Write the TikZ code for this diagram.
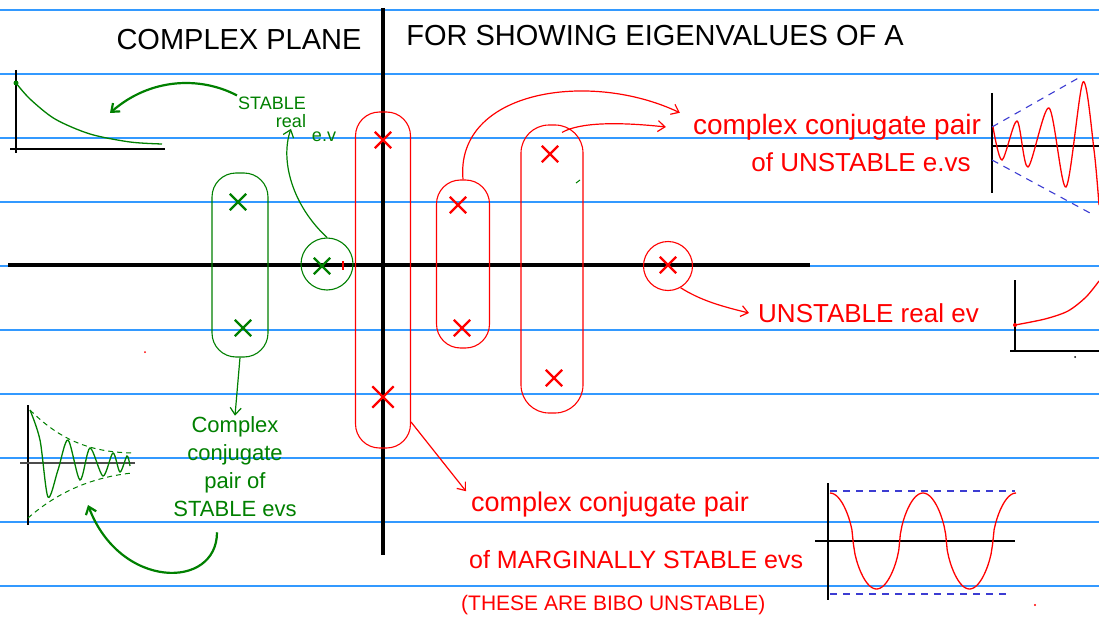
\documentclass[tikz,border=0pt]{standalone}
\usepackage{fontspec}
\setmainfont{Liberation Sans}
\usetikzlibrary{positioning,arrows.meta,shapes.misc}
\definecolor{ruleblue}{RGB}{51,153,255}
\definecolor{inkgreen}{RGB}{0,128,0}
\definecolor{inkred}{RGB}{255,0,0}
\definecolor{envblue}{RGB}{60,60,210}

\begin{document}
\begin{tikzpicture}[
  x=1pt, y=-1pt,
  ruled/.style={ruleblue, line width=1.5pt},
  axis/.style={black, line width=3.5pt},
  smallaxis/.style={black, line width=1.2pt},
  grp/.style={draw, rectangle, rounded corners=24pt, line width=1.1pt, inner sep=0pt},
  evx/.style={cross out, draw, minimum size=14pt, inner sep=0pt, line width=2.3pt},
  garr/.style={inkgreen, line width=1.2pt, -{Straight Barb[length=7pt,width=11pt]}},
  rarr/.style={inkred, line width=1.2pt, -{Straight Barb[length=7pt,width=11pt]}},
  gtxt/.style={inkgreen, inner sep=1pt},
  rtxt/.style={inkred, inner sep=1pt},
  env/.style={envblue, dash pattern=on 7pt off 6pt, line width=1.1pt},
  ]
  \useasboundingbox (0,0) rectangle (1099,623);
  \fill[white] (0,0) rectangle (1099,623);
  % ruled paper
  \foreach \yy in {10,74,...,586}
    \draw[ruled] (0,\yy) -- (1099,\yy);

  % complex plane
  \draw[axis] (8,265) -- (810,265);
  \draw[axis] (383,8) -- (383,555);
  \node[font=\fontsize{29}{32}\selectfont] (ttlA) at (239,40) {COMPLEX PLANE};
  \node[font=\fontsize{29}{32}\selectfont] (ttlB) at (655,36) {FOR SHOWING EIGENVALUES OF A};

  % stable eigenvalues
  \node[grp, draw=inkgreen, minimum width=56pt, minimum height=184pt] (sgrp) at (240,265) {};
  \node[evx, inkgreen] (sx1) at (238,202) {};
  \node[evx, inkgreen] (sx2) at (243,328) {};
  \node[draw=inkgreen, circle, line width=1.1pt, minimum size=52pt, inner sep=0pt] (grc) at (327,264) {};
  \node[evx, inkgreen] (gx) at (322,266) {};
  \draw[inkred, line width=1.2pt] (343,261) -- (343,270);

  \node[gtxt, font=\fontsize{18}{20}\selectfont] (gst) at (272,103) {STABLE};
  \node[gtxt, font=\fontsize{18}{20}\selectfont] (grl) at (291,121) {real};
  \node[gtxt, font=\fontsize{18}{20}\selectfont] (gev) at (324,137) {e.v};
  \node[gtxt, font=\fontsize{22}{28}\selectfont, align=center] (scc) at (235,467)
    {Complex\\conjugate\\pair of\\STABLE evs};

  \coordinate (dectip) at (110,113);
  \coordinate (dmptip) at (88,505);
  \draw[garr] (sgrp.south) -- (scc.north);
  \draw[garr] (grc.north) .. controls (292,205) and (280,160) .. (grl.south);
  \draw[garr, line width=2.2pt] (gst.north west) .. controls (200,76) and (150,78) .. (dectip);
  \draw[garr, line width=2.2pt] ([xshift=-18pt,yshift=-14pt]scc.south) .. controls (217,590) and (120,590) .. (dmptip);

  % unstable and marginal eigenvalues
  \node[grp, draw=inkred, minimum width=55pt, minimum height=336pt] (igrp) at (383,280) {};
  \node[grp, draw=inkred, minimum width=53pt, minimum height=168pt] (ugrp1) at (463,264) {};
  \node[grp, draw=inkred, rounded corners=28pt, minimum width=62pt, minimum height=288pt] (ugrp2) at (552,269) {};
  \node[draw=inkred, circle, line width=1.1pt, minimum size=49pt, inner sep=0pt] (ucirc) at (668,266) {};
  \node[evx, inkred] (ix1) at (383,140) {};
  \node[evx, inkred, minimum size=19pt] (ix2) at (383,397) {};
  \node[evx, inkred] (ux1) at (458,205) {};
  \node[evx, inkred] (ux2) at (462,328) {};
  \node[evx, inkred] (ux3) at (550,154) {};
  \node[evx, inkred] (ux4) at (554,378) {};
  \node[evx, inkred] (urx) at (668,265) {};

  \node[rtxt, font=\fontsize{28}{30}\selectfont] (upair) at (837,127) {complex conjugate pair};
  \node[rtxt, font=\fontsize{26}{28}\selectfont] (uof) at (861,162) {of UNSTABLE e.vs};
  \node[rtxt, font=\fontsize{26}{28}\selectfont, anchor=west] (ureal) at (757,313) {UNSTABLE real ev};
  \node[rtxt, font=\fontsize{27}{30}\selectfont, anchor=west] (mpair) at (470,505) {complex conjugate pair};
  \node[rtxt, font=\fontsize{25}{28}\selectfont, anchor=west] (mof) at (468,560) {of MARGINALLY STABLE evs};
  \node[rtxt, font=\fontsize{21}{24}\selectfont, anchor=west] (mbibo) at (460,605) {(THESE ARE BIBO UNSTABLE)};

  \draw[rarr] (ugrp1.north) .. controls (455,90) and (590,70) .. ([xshift=-12pt]upair.north west);
  \draw[rarr] ([xshift=10pt,yshift=-8pt]ugrp2.north) .. controls (580,122) and (620,122) .. ([xshift=-26pt]upair.west);
  \draw[rarr] (ucirc.-60) .. controls (700,300) and (720,306) .. ([xshift=-8pt]ureal.west);
  \draw[rarr] ([yshift=-142pt]igrp.east) -- ([xshift=-4pt]mpair.north west);

  % decaying response
  \draw[smallaxis] (16,70) -- (16,153);
  \draw[smallaxis] (10,149) -- (165,149);
  \draw[inkgreen, line width=1.3pt] plot[smooth] coordinates {(16,83) (30,99) (55,119) (90,134) (130,142) (162,144)};
  \fill[inkgreen] (16,83) circle (2.5pt);

  % damped oscillation
  \draw[smallaxis] (28,405) -- (28,525);
  \draw[black!70, line width=1.2pt] (20,463) -- (135,463);
  \draw[inkgreen, dash pattern=on 5pt off 4pt, line width=1pt] (30,410) .. controls (60,440) and (90,452) .. (132,453);
  \draw[inkgreen, dash pattern=on 5pt off 4pt, line width=1pt] (28,518) .. controls (60,490) and (95,477) .. (132,473);
  \draw[inkgreen, line width=1.3pt] plot[smooth] coordinates {(30,410) (40,440) (48,497) (58,470) (68,440) (80,480) (90,448) (103,476) (113,453) (120,472) (127,456) (130,466)};

  % growing oscillation
  \draw[smallaxis] (992,93) -- (992,193);
  \draw[smallaxis] (992,146) -- (1099,146);
  \draw[env] (992,127) -- (1082,76);
  \draw[env] (992,160) -- (1090,213);
  \draw[inkred, line width=1.3pt] plot[smooth] coordinates {(993,127) (1002,160) (1017,121) (1028,167) (1049,108) (1066,187) (1083,82) (1094,150) (1099,205)};

  % growing exponential
  \draw[smallaxis] (1015,280) -- (1015,352);
  \draw[smallaxis] (1010,351) -- (1099,351);
  \draw[inkred, line width=1.3pt] plot[smooth] coordinates {(1015,325) (1045,319) (1068,311) (1086,297) (1099,281)};
  \fill[inkred] (1015,325) circle (2pt);

  % sustained oscillation
  \draw[smallaxis] (828,483) -- (828,600);
  \draw[smallaxis] (815,541) -- (1015,541);
  \draw[env] (830,491) -- (1015,491);
  \draw[env] (830,594) -- (1010,594);
  \draw[inkred, line width=1.3pt] plot[domain=0:186, samples=120]
    ({830+\x},{541-48*cos(3.871*\x)/(abs(cos(3.871*\x))+0.001)^0.4});

  % stray marks
  \fill[inkred] (145,352) circle (1pt);
  \fill[inkred] (1035,605) circle (1.2pt);
  \fill (1075,357) circle (1pt);
  \draw[inkgreen, line width=1pt] (576,183) -- (580,180);
\end{tikzpicture}
\end{document}
